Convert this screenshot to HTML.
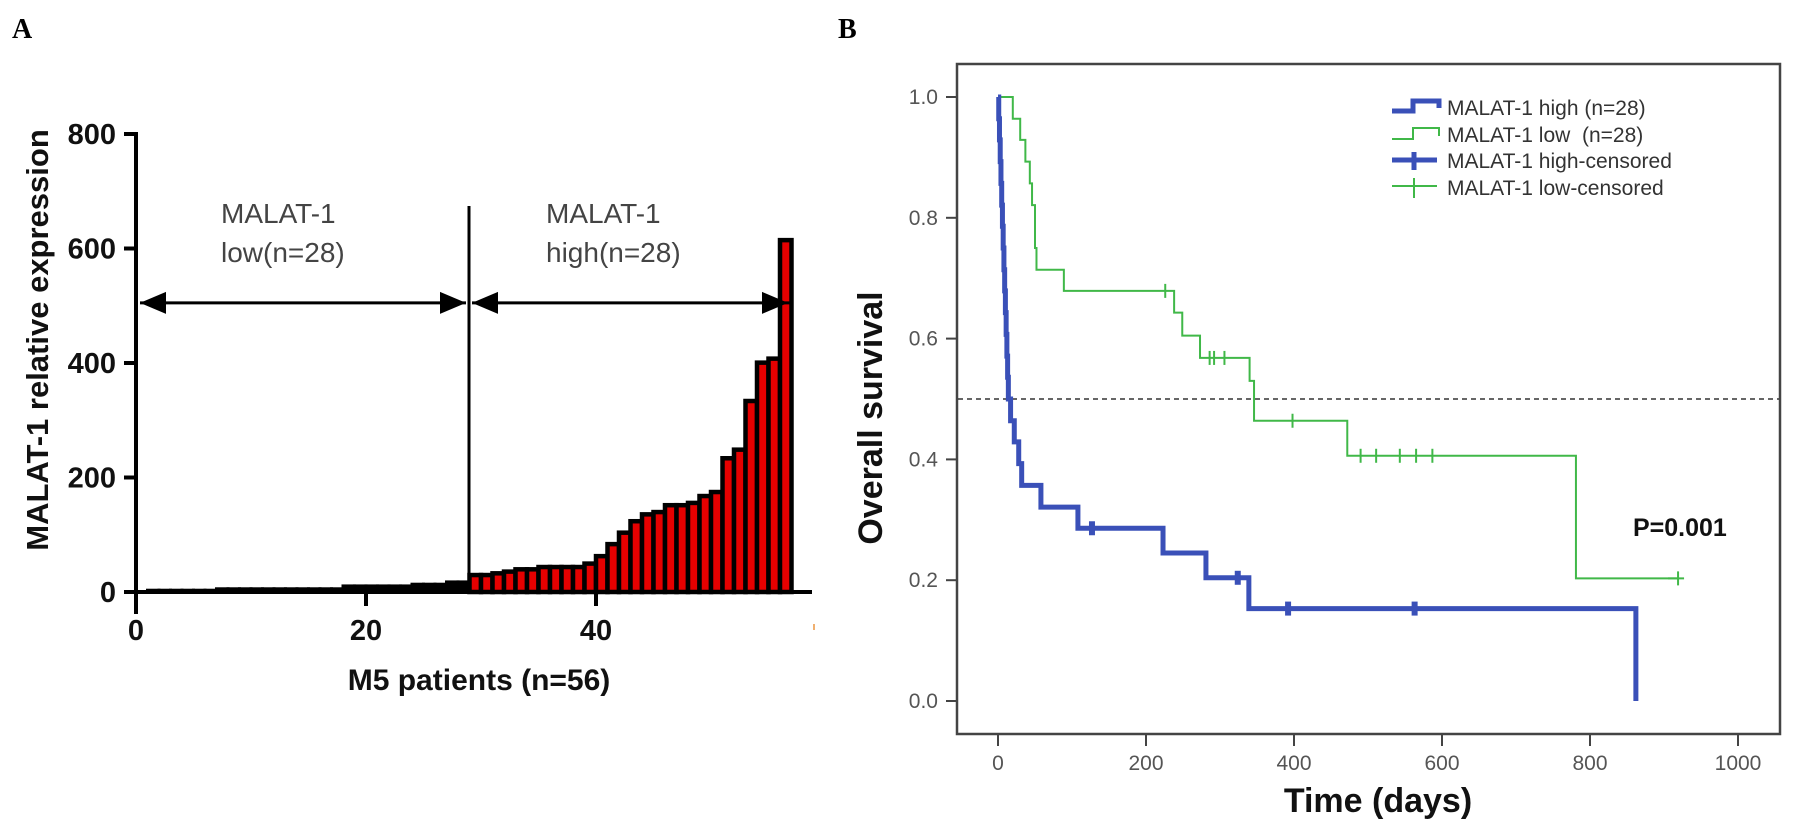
<!DOCTYPE html>
<html><head><meta charset="utf-8"><style>
html,body{margin:0;padding:0;background:#fff;}
svg{display:block;font-family:"Liberation Sans",Arial,sans-serif;}
</style></head><body>
<svg id="fig" width="1795" height="831" viewBox="0 0 1795 831">
<g id="panelA">
<text x="12" y="38" font-family="Liberation Serif,serif" font-weight="bold" font-size="28">A</text>
<text transform="translate(48,340) rotate(-90)" text-anchor="middle" font-weight="bold" font-size="31" fill="#111">MALAT-1 relative expression</text>
<text x="479" y="690" text-anchor="middle" font-weight="bold" font-size="30" fill="#111">M5 patients (n=56)</text>
<g fill="#444" font-size="28">
<text x="221" y="223">MALAT-1</text>
<text x="221" y="262">low(n=28)</text>
<text x="546" y="223">MALAT-1</text>
<text x="546" y="262">high(n=28)</text>
</g>
<rect x="813" y="624" width="2" height="6" fill="#f0b070"/>
</g>
<g id="panelB">
<text x="838" y="38" font-family="Liberation Serif,serif" font-weight="bold" font-size="28">B</text>
<rect x="957" y="64" width="823" height="670" fill="none" stroke="#444" stroke-width="2.5"/>
<text transform="translate(882,418) rotate(-90)" text-anchor="middle" font-weight="bold" font-size="34" fill="#111">Overall survival</text>
<text x="1378" y="812" text-anchor="middle" font-weight="bold" font-size="34" fill="#111">Time (days)</text>
<text x="1633" y="536" font-weight="bold" font-size="25" fill="#111">P=0.001</text>
<g>
<path d="M1392,111 H1413 V101 H1439 V108" fill="none" stroke="#3a50b8" stroke-width="5"/>
<text x="1447" y="115" font-size="21" fill="#333">MALAT-1 high (n=28)</text>
<path d="M1392,139 H1413 V128 H1439 V136" fill="none" stroke="#40b848" stroke-width="2"/>
<text x="1447" y="142" font-size="21" fill="#333" xml:space="preserve">MALAT-1 low  (n=28)</text>
<path d="M1392,160 H1437 M1414,152 V170" fill="none" stroke="#3a50b8" stroke-width="5"/>
<text x="1447" y="168" font-size="21" fill="#333">MALAT-1 high-censored</text>
<path d="M1392,186 H1437 M1414,178 V198" fill="none" stroke="#40b848" stroke-width="2"/>
<text x="1447" y="195" font-size="21" fill="#333">MALAT-1 low-censored</text>
</g>
</g>
</svg>
<script>
// ---------- Panel A data ----------
const barLow = [0.5,0.5,0.5,0.5,0.5,0.5,3,3,3,3,3,3,3,3,3,3,3,8,8,8,8,8,8,11,11,11,15,15];
const barHigh = [27,27,30,33,37,37,41,41,41,41,47,60,81,101,121,133,137,149,149,153,165,172,231,246,331,398,405,612];
const aYTicks = [0,200,400,600,800];
const aXTicks = [0,20,40];
// ---------- Panel B data ----------
const highTimes = [0,1,2,3,4,5,6,7,8,9,10,11,12,13,14,17,22,28,32,58,108,223,281,339,862];
const highSurv  = [1,.964,.929,.893,.857,.821,.786,.75,.714,.679,.643,.607,.571,.536,.5,.464,.429,.393,.357,.321,.286,.245,.204,.153,0];
const highEnd = 862;
const highCensorT = [127,324,392,563];
const highCensorS = [.286,.204,.153,.153];
const lowTimes = [0,20,30,37,43,46,50,52,89,238,249,273,340,346,472,781];
const lowSurv  = [1,.964,.929,.893,.857,.821,.75,.714,.679,.643,.605,.568,.53,.464,.406,.203];
const lowEnd = 919;
const lowCensorT = [226,286,292,306,398,490,511,543,565,587,919];
const lowCensorS = [.679,.568,.568,.568,.464,.406,.406,.406,.406,.406,.203];
const bYTicks = [0,0.2,0.4,0.6,0.8,1.0];
const bXTicks = [0,200,400,600,800,1000];

const NS = 'http://www.w3.org/2000/svg';
function mk(tag, attrs, parent){const e=document.createElementNS(NS,tag);for(const k in attrs)e.setAttribute(k,attrs[k]);parent.appendChild(e);return e;}
const A = document.getElementById('panelA');
const B = document.getElementById('panelB');
const ax = i => 136 + 11.5*i;
const ay = v => 592 - 0.5725*v;
const bars = barLow.concat(barHigh);
bars.forEach((v,k)=>{
  const x0 = ax(k+1), x1 = ax(k+2);
  const r = mk('rect',{x:x0,y:ay(v)-1.5,width:x1-x0,height:Math.max(592-ay(v)+1.5,1.5),fill:k<28?'#000':'#e60000',stroke:'#000','stroke-width':k<28?3:4.5},A);
  
  
});
let l = mk('line',{x1:136,y1:ay(0),x2:812,y2:ay(0),stroke:'#000','stroke-width':4},A);


l = mk('line',{x1:136,y1:ay(800)-2,x2:136,y2:ay(0)+22,stroke:'#000','stroke-width':4},A);


aYTicks.forEach(v=>{
  const t = mk('line',{x1:124,y1:ay(v),x2:136,y2:ay(v),stroke:'#000','stroke-width':4},A);
  
  
  const tx = mk('text',{x:116,y:ay(v)+10,'text-anchor':'end','font-weight':'bold','font-size':29,fill:'#111'},A);
  tx.textContent = v;
  
  
});
aXTicks.forEach(v=>{
  const t = mk('line',{x1:ax(v),y1:ay(0),x2:ax(v),y2:ay(0)+14,stroke:'#000','stroke-width':4},A);
  
  
  const tx = mk('text',{x:ax(v),y:640,'text-anchor':'middle','font-weight':'bold','font-size':29,fill:'#111'},A);
  tx.textContent = v;
  
  
});
l = mk('line',{x1:469,y1:206,x2:469,y2:592,stroke:'#000','stroke-width':3},A);


l = mk('line',{x1:140,y1:ay(505),x2:466,y2:ay(505),stroke:'#000','stroke-width':3},A);


l = mk('line',{x1:472,y1:ay(505),x2:790,y2:ay(505),stroke:'#000','stroke-width':3},A);


const ya = ay(505);
[[140,1],[466,-1],[472,1],[788,-1]].forEach(([x,d])=>{
  const p = mk('polygon',{points:`${x},${ya} ${x+26*d},${ya-11} ${x+26*d},${ya+11}`,fill:'#000'},A);
  
  
});
const bx = d => 998 + 0.74*d;
const by = v => 701 - 604*v;
bYTicks.forEach(v=>{
  const t = mk('line',{x1:946,y1:by(v),x2:957,y2:by(v),stroke:'#444','stroke-width':2},B);
  
  
  const tx = mk('text',{x:938,y:by(v)+7,'text-anchor':'end','font-size':21,fill:'#555'},B);
  tx.textContent = v.toFixed(1);
  
  
});
bXTicks.forEach(v=>{
  const t = mk('line',{x1:bx(v),y1:734,x2:bx(v),y2:746,stroke:'#444','stroke-width':2},B);
  
  
  const tx = mk('text',{x:bx(v),y:770,'text-anchor':'middle','font-size':21,fill:'#555'},B);
  tx.textContent = v;
  
  
});
l = mk('line',{x1:958,y1:by(0.5),x2:1779,y2:by(0.5),stroke:'#333','stroke-width':1.5,'stroke-dasharray':'5,4'},B);


function stepPath(ts, ss, end){
  let d = `M${bx(ts[0])},${by(ss[0])}`;
  for(let i=1;i<ts.length;i++){ d += ` H${bx(ts[i])} V${by(ss[i])}`; }
  if(end > ts[ts.length-1]) d += ` H${bx(end)}`;
  return d;
}
let p = mk('path',{d:stepPath(lowTimes,lowSurv,lowEnd),fill:'none',stroke:'#40b848','stroke-width':2},B);


p = mk('path',{d:stepPath(highTimes,highSurv,highEnd),fill:'none',stroke:'#3a50b8','stroke-width':5},B);


lowCensorT.forEach((t,i)=>{
  const c = mk('line',{x1:bx(t),y1:by(lowCensorS[i])-7,x2:bx(t),y2:by(lowCensorS[i])+7,stroke:'#40b848','stroke-width':2},B);
  
  
});
const tail = mk('line',{x1:bx(lowEnd)-10,y1:by(0.203),x2:bx(lowEnd)+6,y2:by(0.203),stroke:'#40b848','stroke-width':2},B);


highCensorT.forEach((t,i)=>{
  const c = mk('line',{x1:bx(t),y1:by(highCensorS[i])-7,x2:bx(t),y2:by(highCensorS[i])+7,stroke:'#3a50b8','stroke-width':6},B);
  
  
});
</script>
</body></html>
